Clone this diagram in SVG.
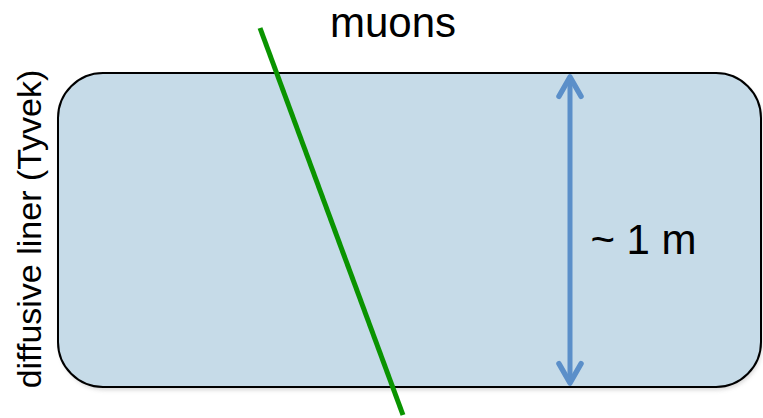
<svg xmlns="http://www.w3.org/2000/svg" width="763" height="418" viewBox="0 0 763 418">
<style>
.t{font-family:"Liberation Sans",Arial,sans-serif;fill:#000}
</style>
<defs>
<marker id="ah" viewBox="0 0 20 20" refX="17" refY="10" markerWidth="5.5" markerHeight="5.5" orient="auto-start-reverse" markerUnits="strokeWidth">
<path d="M3 2 L17 10 L3 18" fill="none" stroke="#5b8fc9" stroke-width="4" stroke-linecap="round" stroke-linejoin="round"/>
</marker>
<filter id="sh" x="-5%" y="-5%" width="110%" height="115%">
<feGaussianBlur stdDeviation="2"/>
</filter>
</defs>
<rect width="763" height="418" fill="#fff"/>
<g id="tank">
<rect x="60" y="76" width="702" height="314" rx="45" ry="45" fill="#888" opacity="0.35" filter="url(#sh)"/>
<rect x="58" y="73" width="703" height="314" rx="45" ry="45" fill="#c6dbe8" stroke="#000" stroke-width="2"/>
</g>
<g id="connectors">
<line x1="570" y1="77" x2="570" y2="383" stroke="#5b8fc9" stroke-width="5" marker-start="url(#ah)" marker-end="url(#ah)"/>
<line x1="260" y1="28" x2="403" y2="415" stroke="#0a9400" stroke-width="5"/>
</g>
<g id="labels">
<text class="t" x="393" y="37" font-size="42" text-anchor="middle">muons</text>
<text class="t" x="643.5" y="254" font-size="42" text-anchor="middle">~ 1 m</text>
<text class="t" transform="translate(41,229) rotate(-90)" font-size="34" text-anchor="middle">diffusive liner (Tyvek)</text>
</g>
</svg>
